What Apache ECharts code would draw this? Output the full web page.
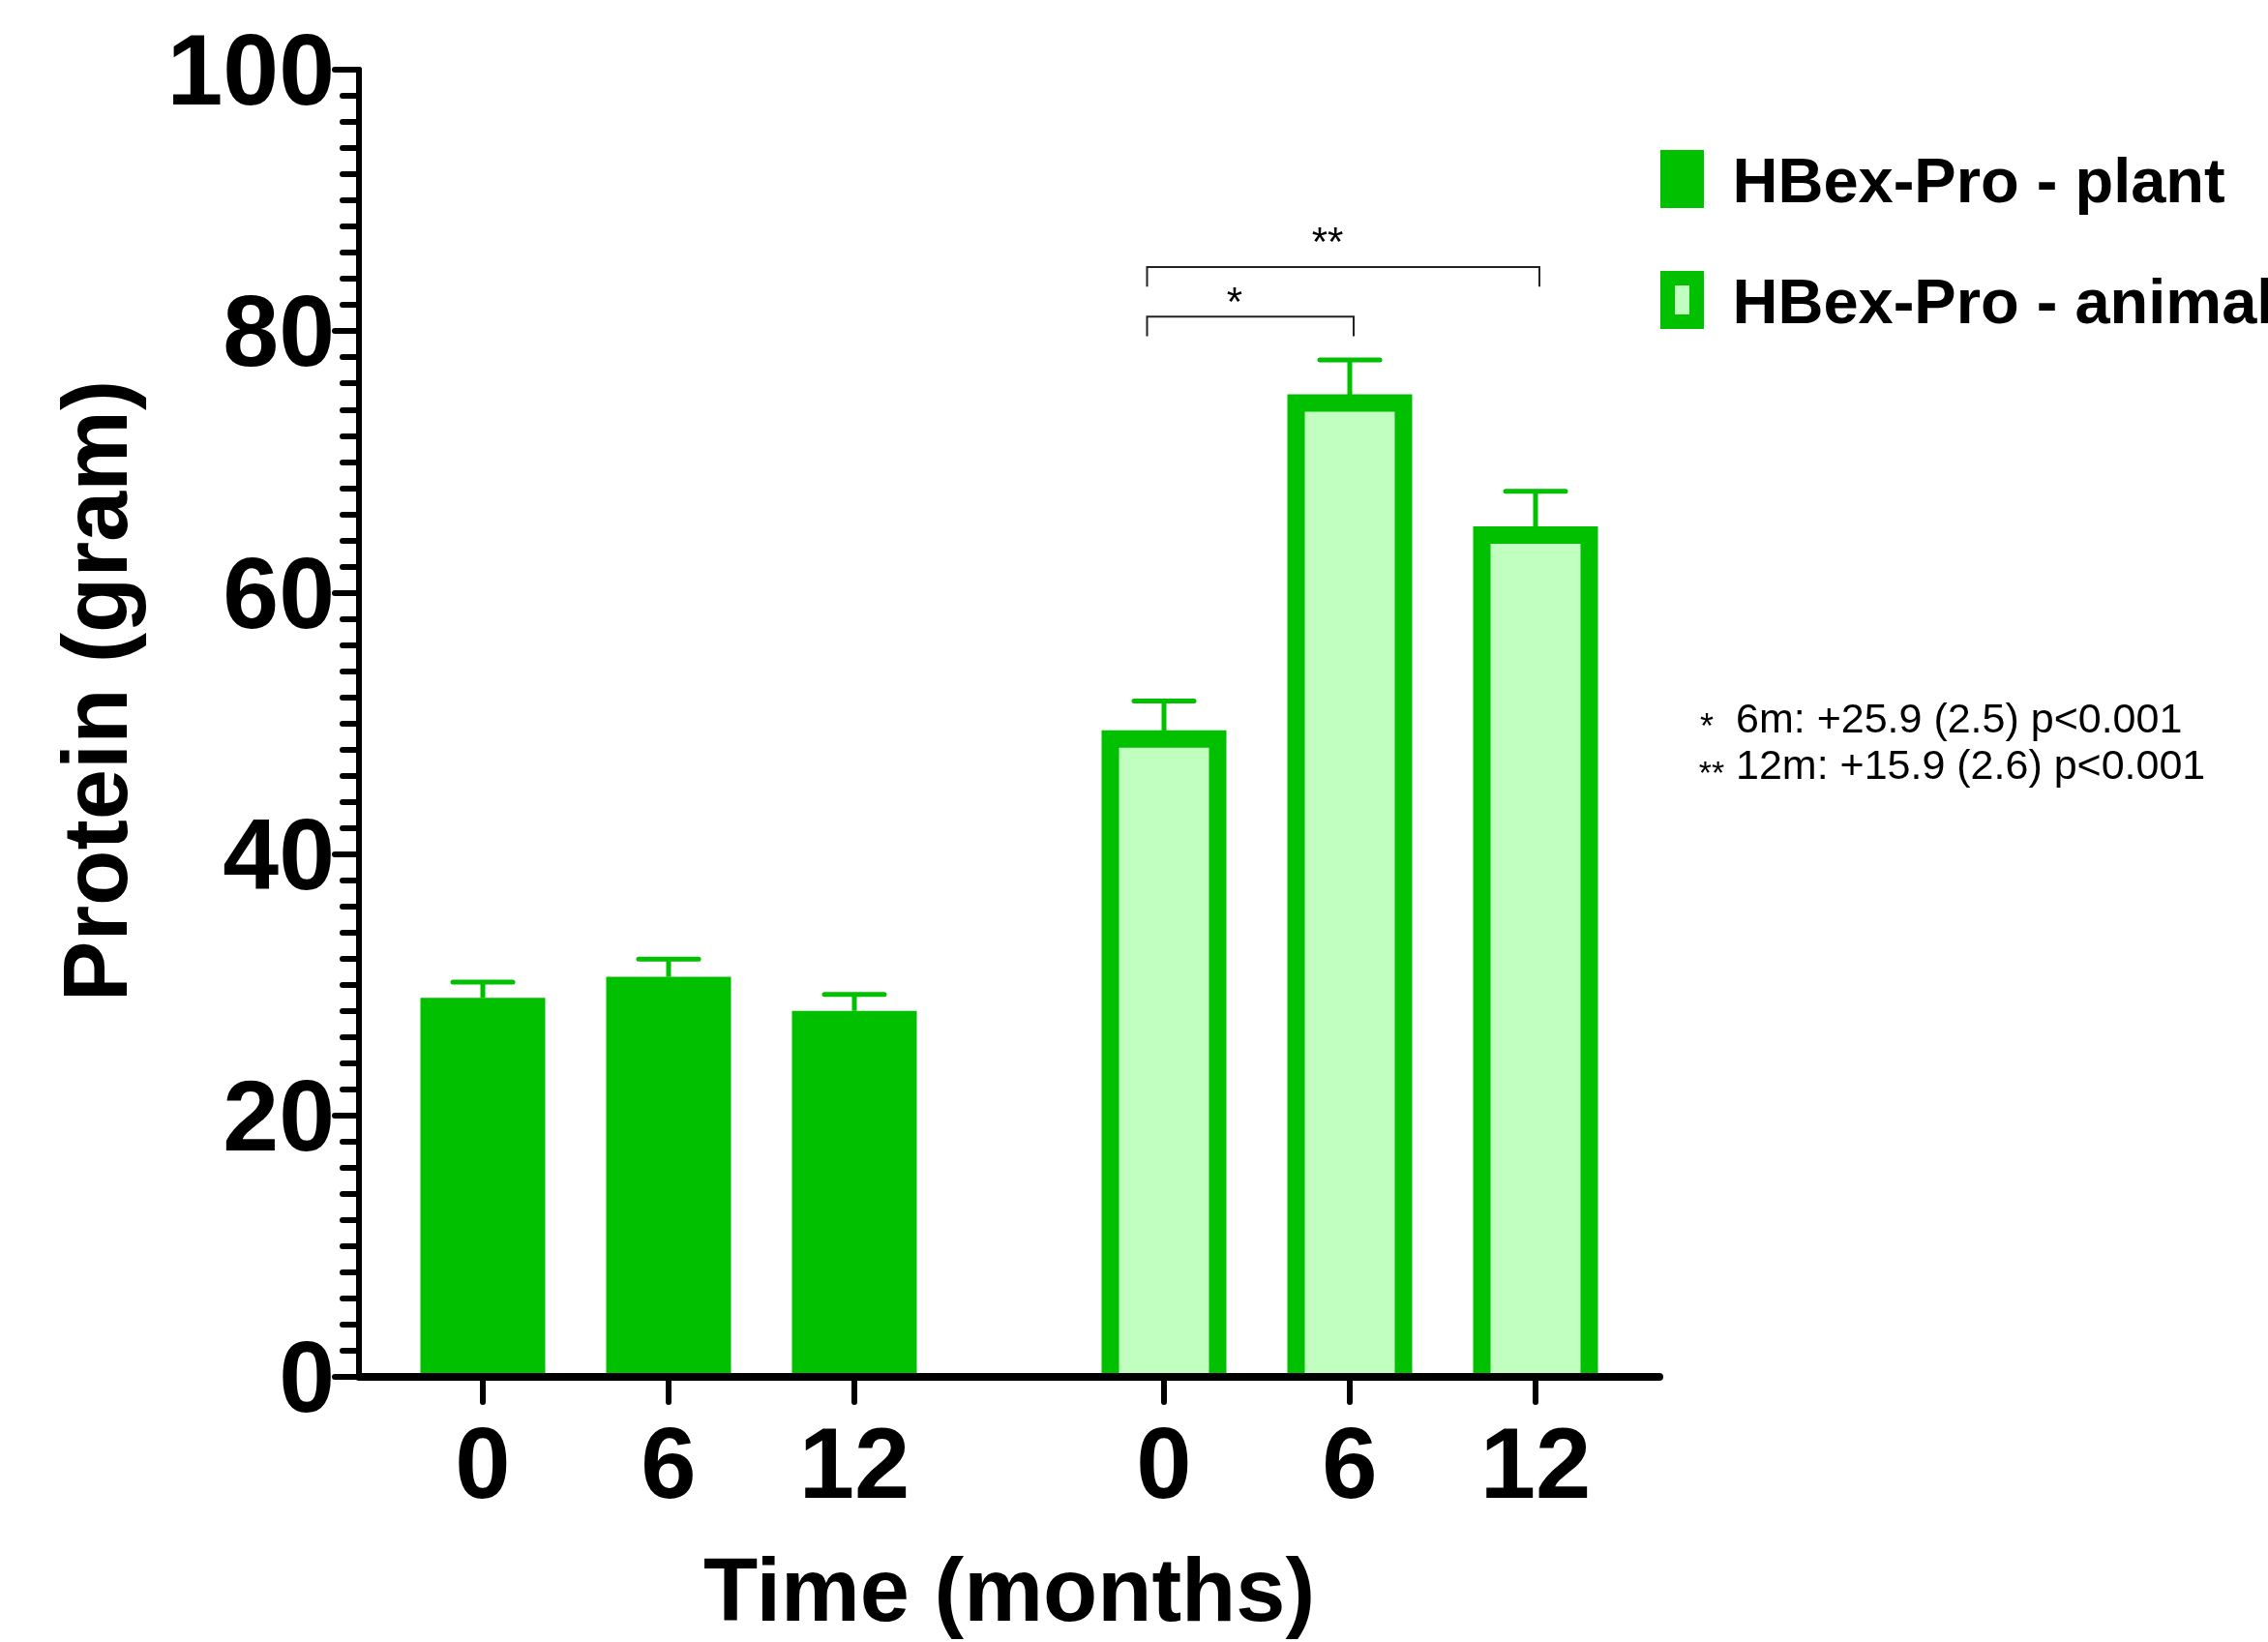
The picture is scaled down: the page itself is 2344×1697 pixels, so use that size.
<!DOCTYPE html>
<html><head><meta charset="utf-8">
<script src="https://cdn.jsdelivr.net/npm/echarts@6/dist/echarts.min.js"></script>
<style>html,body{margin:0;padding:0;background:#fff}#chart{width:2344px;height:1697px}</style>
</head><body><div id="chart"></div>
<script>
// ---------- data ----------
const xTickLabels = ['', '', '0', '', '', '6', '', '', '12', '', '', '', '', '0', '', '', '6', '', '', '12', '', ''];
const seriesNames = ['HBex-Pro - plant', 'HBex-Pro - animal'];
const plantMeans = [29.0, 30.6, 28.0];
const plantSE = [1.2, 1.35, 1.25];
const animalMeans = [48.8, 74.5, 64.4];
const animalSE = [2.9, 3.3, 3.35];
const yMin = 0, yMax = 100, yInterval = 20;
// significance brackets (indices into the animal group)
const bracketFrom = [0, 0];
const bracketTo = [1, 2];
const bracketTop = [81.1, 84.9];
const bracketLeg = [1.5, 1.5];
const bracketStarY = [82.7, 87.3];
const bracketLabel = ['*', '**'];
const noteStars = ['*', '**'];
const noteLines = ['6m: +25.9 (2.5) p<0.001', '12m: +15.9 (2.6) p<0.001'];
const xTitle = 'Time (months)';
const yTitle = 'Protein (gram)';

// ---------- build ----------
const FONT = '"Liberation Sans", Arial, sans-serif';
const GREEN = '#00c000', LIGHT = '#c0ffc0';
const slots = xTickLabels.map((l, i) => l !== '' ? i : -1).filter(i => i >= 0);
const plantSlots = slots.slice(0, 3), animalSlots = slots.slice(3, 6);
const plantData = xTickLabels.map(() => '-');
plantSlots.forEach((s, k) => plantData[s] = plantMeans[k]);
const animalData = animalSlots.map((s, k) => [s, animalMeans[k]]);
const errData = plantSlots.map((s, k) => [s, plantMeans[k], plantSE[k]])
  .concat(animalSlots.map((s, k) => [s, animalMeans[k], animalSE[k]]));
const bracketData = bracketFrom.map((f, k) => [animalSlots[f], animalSlots[bracketTo[k]], bracketTop[k], bracketLeg[k], bracketStarY[k], k]);

const chart = echarts.init(document.getElementById('chart'), null, {renderer: 'canvas'});
const showTick = (i, v) => v !== '';
const catAxisBase = {
  type: 'category', data: xTickLabels, boundaryGap: false
};
chart.setOption({
  animation: false,
  backgroundColor: '#fff',
  grid: {left: 371, right: 629, top: 72, bottom: 274, containLabel: false},
  legend: {
    orient: 'vertical', left: 1716, top: 155, padding: 0,
    itemWidth: 30, itemHeight: 45, itemGap: 56.5, icon: 'rect', selectedMode: false,
    formatter: '{t|{name}}',
    textStyle: {
      fontSize: 65, fontWeight: 'bold', color: '#000', fontFamily: FONT,
      rich: {t: {fontSize: 65, fontWeight: 'bold', color: '#000', fontFamily: FONT, padding: [12, 0, 0, 32]}}
    },
    data: [
      {name: seriesNames[0], itemStyle: {color: GREEN, borderColor: GREEN, borderWidth: 15}},
      {name: seriesNames[1], itemStyle: {color: LIGHT, borderColor: GREEN, borderWidth: 15}}
    ]
  },
  xAxis: [
    Object.assign({}, catAxisBase, {
      z: 10,
      axisLine: {show: true, lineStyle: {color: '#000', width: 8, cap: 'round'}},
      axisTick: {show: true, interval: showTick, length: 26, lineStyle: {color: '#000', width: 6, cap: 'round'}},
      axisLabel: {show: true, interval: showTick, margin: 45, fontSize: 103, fontWeight: 'bold', color: '#000', fontFamily: FONT},
      splitLine: {show: false}
    }),
    Object.assign({}, catAxisBase, {show: false})
  ],
  yAxis: {
    type: 'value', min: yMin, max: yMax, interval: yInterval, z: 10,
    axisLine: {show: true, lineStyle: {color: '#000', width: 6}},
    axisTick: {show: true, length: 25, lineStyle: {color: '#000', width: 6, cap: 'round'}},
    minorTick: {show: true, splitNumber: 10, length: 17, lineStyle: {color: '#000', width: 6, cap: 'round'}},
    axisLabel: {margin: 25, fontSize: 104, fontWeight: 'bold', color: '#000', fontFamily: FONT, verticalAlign: 'top', lineHeight: 15},
    splitLine: {show: false}
  },
  series: [
    {
      name: seriesNames[0], type: 'bar', xAxisIndex: 0, data: plantData, barWidth: 129,
      itemStyle: {color: GREEN}, z: 2
    },
    {
      name: seriesNames[1], type: 'custom', xAxisIndex: 1, data: animalData,
      encode: {x: 0, y: 1}, itemStyle: {color: LIGHT, borderColor: GREEN}, z: 2,
      renderItem: function (params, api) {
        const top = api.coord([api.value(0), api.value(1)]);
        const base = api.coord([api.value(0), 0]);
        const hw = 55.5;
        return {type: 'group', children: [
          {type: 'rect', shape: {x: top[0] - hw, y: top[1], width: hw * 2, height: base[1] - top[1]}, style: {fill: LIGHT}},
          {type: 'polyline', shape: {points: [[top[0] - hw, base[1]], [top[0] - hw, top[1]], [top[0] + hw, top[1]], [top[0] + hw, base[1]]]},
            style: {stroke: GREEN, lineWidth: 18, fill: null, lineJoin: 'miter'}}
        ]};
      }
    },
    {
      type: 'custom', xAxisIndex: 0, data: errData, encode: {x: 0, y: 1}, z: 3, silent: true,
      renderItem: function (params, api) {
        const s = api.value(0), m = api.value(1), e = api.value(2);
        const p0 = api.coord([s, m]), p1 = api.coord([s, m + e]);
        const hw = 31;
        return {type: 'group', children: [
          {type: 'line', shape: {x1: p0[0], y1: p0[1], x2: p1[0], y2: p1[1]}, style: {stroke: GREEN, lineWidth: 5}},
          {type: 'line', shape: {x1: p1[0] - hw, y1: p1[1], x2: p1[0] + hw, y2: p1[1]}, style: {stroke: GREEN, lineWidth: 5, lineCap: 'round'}}
        ]};
      }
    },
    {
      type: 'custom', xAxisIndex: 0, data: bracketData, encode: {x: [0, 1], y: 2}, z: 3, silent: true,
      renderItem: function (params, api) {
        const f = api.value(0), t = api.value(1), top = api.value(2), leg = api.value(3), sy = api.value(4), k = api.value(5);
        const a = api.coord([f, top]), b = api.coord([t, top]);
        const yb = api.coord([f, top - leg])[1];
        const L = a[0] - 17.5, R = b[0] + 4;
        const star = api.coord([f, sy]);
        return {type: 'group', children: [
          {type: 'polyline', shape: {points: [[L, yb], [L, a[1]], [R, a[1]], [R, yb]]},
            style: {stroke: '#222', lineWidth: 2, fill: null}},
          {type: 'text', x: (a[0] + b[0]) / 2 - 23, y: star[1] + 9,
            style: {text: bracketLabel[k], fontSize: 42, fontFamily: FONT, fill: '#000', align: 'center', verticalAlign: 'middle'}}
        ]};
      }
    }
  ],
  graphic: [
    {type: 'text', x: 105, y: 714, rotation: Math.PI / 2,
      style: {text: yTitle, fontSize: 94, fontWeight: 'bold', fontFamily: FONT, fill: '#000', align: 'center', verticalAlign: 'middle'}},
    {type: 'text', x: 1043, y: 1650,
      style: {text: xTitle, fontSize: 92, fontWeight: 'bold', fontFamily: FONT, fill: '#000', align: 'center', verticalAlign: 'middle'}},
    {type: 'text', x: 1794, y: 745,
      style: {text: noteLines[0], fontSize: 43, fontFamily: FONT, fill: '#000', align: 'left', verticalAlign: 'middle'}},
    {type: 'text', x: 1794, y: 793,
      style: {text: noteLines[1], fontSize: 43, fontFamily: FONT, fill: '#000', align: 'left', verticalAlign: 'middle'}},
    {type: 'text', x: 1764, y: 753,
      style: {text: noteStars[0], fontSize: 36, fontFamily: FONT, fill: '#000', align: 'center', verticalAlign: 'middle'}},
    {type: 'text', x: 1769, y: 801,
      style: {text: noteStars[1], fontSize: 34, fontFamily: FONT, fill: '#000', align: 'center', verticalAlign: 'middle'}}
  ]
});
</script></body></html>
